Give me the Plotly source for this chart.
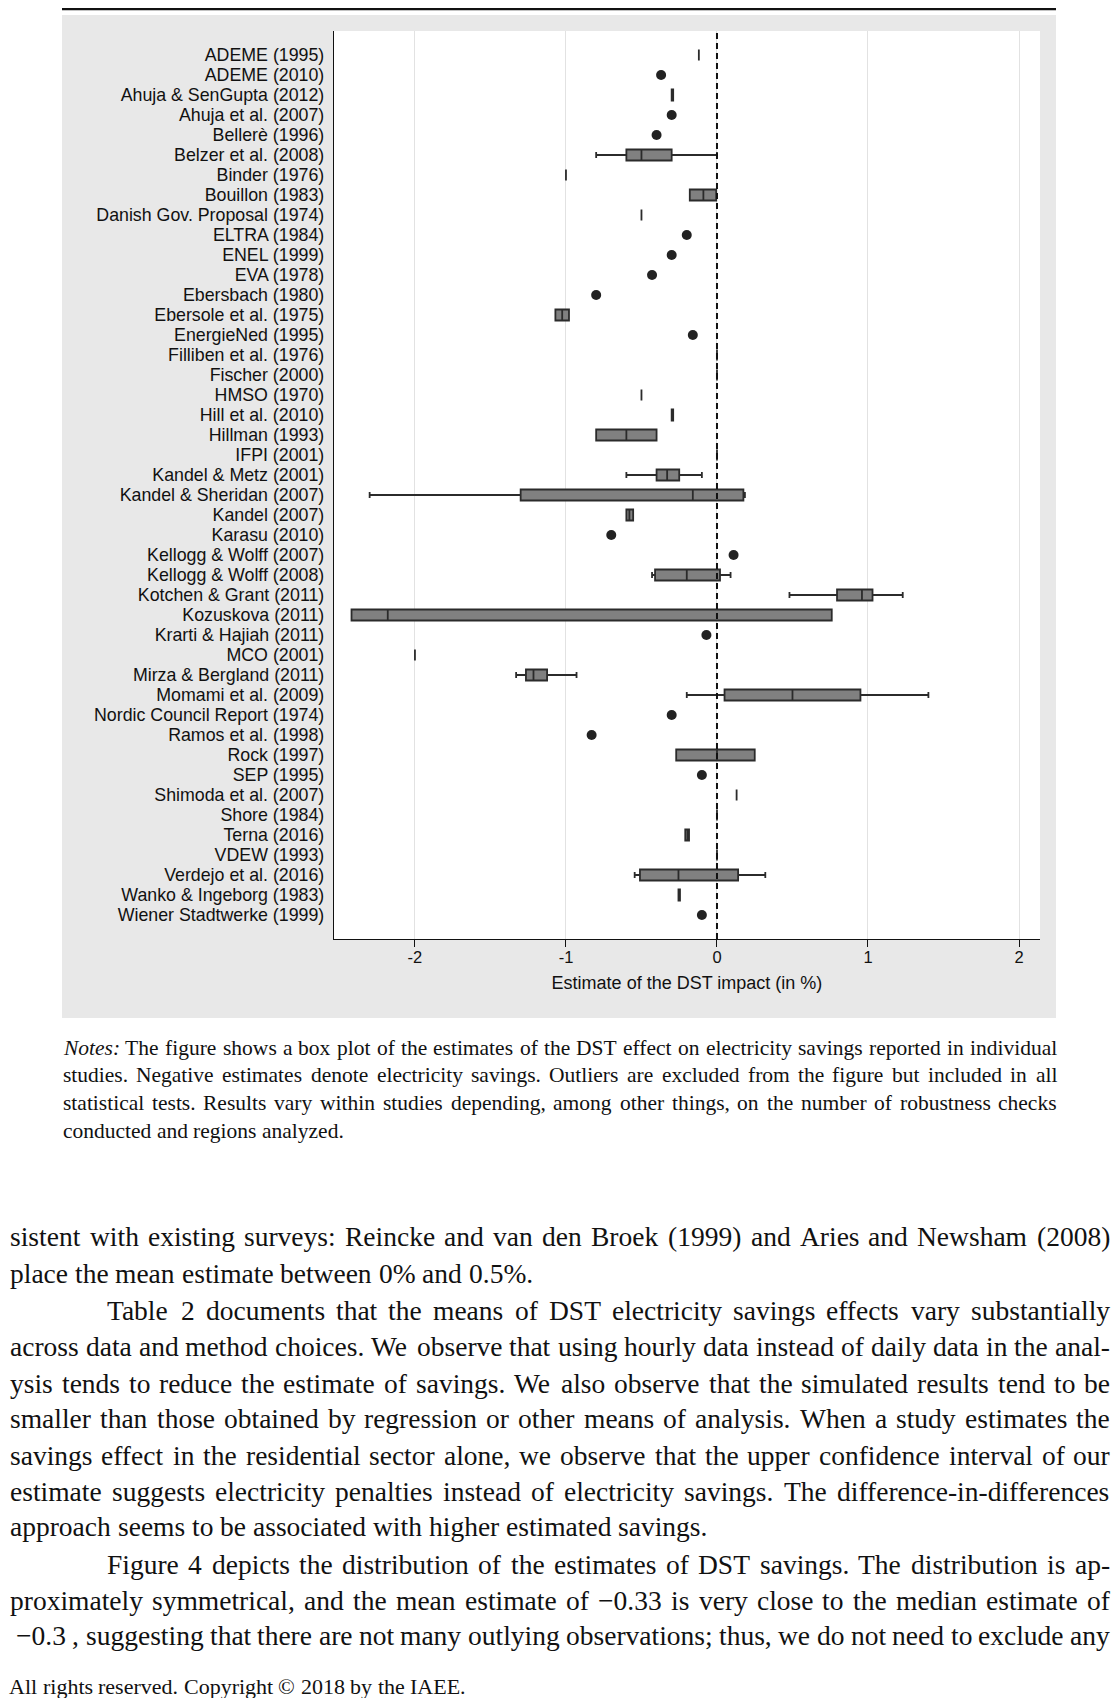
import plotly.graph_objects as go

W, H = 1119, 1698
PAGE = 8  # the browser's default body margin pushes the figure 8px right and down

# ── Data ──────────────────────────────────────────────
studies = [
    "ADEME (1995)", "ADEME (2010)", "Ahuja & SenGupta (2012)", "Ahuja et al. (2007)",
    "Bellerè (1996)", "Belzer et al. (2008)", "Binder (1976)", "Bouillon (1983)",
    "Danish Gov. Proposal (1974)", "ELTRA (1984)", "ENEL (1999)", "EVA (1978)",
    "Ebersbach (1980)", "Ebersole et al. (1975)", "EnergieNed (1995)", "Filliben et al. (1976)",
    "Fischer (2000)", "HMSO (1970)", "Hill et al. (2010)", "Hillman (1993)",
    "IFPI (2001)", "Kandel & Metz (2001)", "Kandel & Sheridan (2007)", "Kandel (2007)",
    "Karasu (2010)", "Kellogg & Wolff (2007)", "Kellogg & Wolff (2008)", "Kotchen & Grant (2011)",
    "Kozuskova (2011)", "Krarti & Hajiah (2011)", "MCO (2001)", "Mirza & Bergland (2011)",
    "Momami et al. (2009)", "Nordic Council Report (1974)", "Ramos et al. (1998)", "Rock (1997)",
    "SEP (1995)", "Shimoda et al. (2007)", "Shore (1984)", "Terna (2016)",
    "VDEW (1993)", "Verdejo et al. (2016)", "Wanko & Ingeborg (1983)", "Wiener Stadtwerke (1999)",
]

# studies drawn as boxes (a box of zero width shows as a single line)
box_studies = [
    "ADEME (1995)", "Ahuja & SenGupta (2012)", "Belzer et al. (2008)", "Binder (1976)",
    "Bouillon (1983)", "Danish Gov. Proposal (1974)", "Ebersole et al. (1975)",
    "Filliben et al. (1976)", "Fischer (2000)", "HMSO (1970)", "Hill et al. (2010)",
    "Hillman (1993)", "IFPI (2001)", "Kandel & Metz (2001)", "Kandel & Sheridan (2007)",
    "Kandel (2007)", "Kellogg & Wolff (2008)", "Kotchen & Grant (2011)", "Kozuskova (2011)",
    "MCO (2001)", "Mirza & Bergland (2011)", "Momami et al. (2009)", "Rock (1997)",
    "Shimoda et al. (2007)", "Shore (1984)", "Terna (2016)", "VDEW (1993)",
    "Verdejo et al. (2016)", "Wanko & Ingeborg (1983)",
]
box_low = [-0.12, -0.30, -0.80, -1.00, -0.18, -0.50, -1.07, 0.0, 0.0, -0.50, -0.30,
           -0.80, 0.0, -0.60, -2.30, -0.60, -0.43, 0.48, -2.42, -2.00, -1.33, -0.20,
           -0.27, 0.13, 0.0, -0.21, 0.0, -0.545, -0.255]
box_q1 = [-0.12, -0.30, -0.60, -1.00, -0.18, -0.50, -1.07, 0.0, 0.0, -0.50, -0.30,
          -0.80, 0.0, -0.40, -1.30, -0.60, -0.41, 0.795, -2.42, -2.00, -1.265, 0.05,
          -0.27, 0.13, 0.0, -0.21, 0.0, -0.51, -0.255]
box_median = [-0.12, -0.295, -0.50, -1.00, -0.09, -0.50, -1.025, 0.0, 0.0, -0.50, -0.295,
              -0.60, 0.0, -0.33, -0.16, -0.58, -0.20, 0.96, -2.18, -2.00, -1.215, 0.50,
              0.0, 0.13, 0.0, -0.195, 0.0, -0.255, -0.25]
box_q3 = [-0.12, -0.29, -0.30, -1.00, -0.005, -0.50, -0.98, 0.0, 0.0, -0.50, -0.29,
          -0.40, 0.0, -0.25, 0.175, -0.555, 0.02, 1.03, 0.76, -2.00, -1.125, 0.95,
          0.25, 0.13, 0.0, -0.185, 0.0, 0.14, -0.245]
box_high = [-0.12, -0.29, 0.0, -1.00, -0.005, -0.50, -0.98, 0.0, 0.0, -0.50, -0.29,
            -0.40, 0.0, -0.10, 0.185, -0.555, 0.09, 1.23, 0.76, -2.00, -0.93, 1.40,
            0.25, 0.13, 0.0, -0.185, 0.0, 0.32, -0.245]

# studies drawn as a single dot
dot_studies = [
    "ADEME (2010)", "Ahuja et al. (2007)", "Bellerè (1996)", "ELTRA (1984)", "ENEL (1999)",
    "EVA (1978)", "Ebersbach (1980)", "EnergieNed (1995)", "Karasu (2010)",
    "Kellogg & Wolff (2007)", "Krarti & Hajiah (2011)", "Nordic Council Report (1974)",
    "Ramos et al. (1998)", "SEP (1995)", "Wiener Stadtwerke (1999)",
]
dot_values = [-0.37, -0.30, -0.40, -0.20, -0.30, -0.43, -0.80, -0.16, -0.70,
              0.11, -0.07, -0.30, -0.83, -0.10, -0.10]

x_ticks = [-2, -1, 0, 1, 2]
x_ticktext = ["-2", "-1", "0", "1", "2"]
x_title = "Estimate of the DST impact (in %)"

notes_lines = [
    "<i>Notes:</i> The figure shows a box plot of the estimates of the DST effect on electricity savings reported in individual",
    "studies. Negative estimates denote electricity savings. Outliers are excluded from the figure but included in all",
    "statistical tests. Results vary within studies depending, among other things, on the number of robustness checks",
    "conducted and regions analyzed.",
]
body_lines = [
    "sistent with existing surveys: Reincke and van den Broek (1999) and Aries and Newsham (2008)",
    "place the mean estimate between 0% and 0.5%.",
    "Table 2 documents that the means of DST electricity savings effects vary substantially",
    "across data and method choices. We observe that using hourly data instead of daily data in the anal-",
    "ysis tends to reduce the estimate of savings. We also observe that the simulated results tend to be",
    "smaller than those obtained by regression or other means of analysis. When a study estimates the",
    "savings effect in the residential sector alone, we observe that the upper confidence interval of our",
    "estimate suggests electricity penalties instead of electricity savings. The difference-in-differences",
    "approach seems to be associated with higher estimated savings.",
    "Figure 4 depicts the distribution of the estimates of DST savings. The distribution is ap-",
    "proximately symmetrical, and the mean estimate of −0.33 is very close to the median estimate of",
    "−0.3 , suggesting that there are not many outlying observations; thus, we do not need to exclude any",
]
footer = "All rights reserved. Copyright © 2018 by the IAEE."

# ── Helpers ───────────────────────────────────────────
FW, FH = W - PAGE, H - PAGE


def px(x):
    return (x - PAGE) / FW


def py(y):
    return 1 - (y - PAGE) / FH


# Times / Liberation Serif advance widths (1/1000 em), used to justify text lines
TIMES = dict(a=444, b=500, c=444, d=500, e=444, f=333, g=500, h=500, i=278, j=278, k=500,
             l=278, m=778, n=500, o=500, p=500, q=500, r=333, s=389, t=278, u=500, v=500,
             w=722, x=500, y=500, z=444,
             A=722, B=667, C=667, D=722, E=611, F=556, G=722, H=722, I=333, J=389, K=722,
             L=611, M=889, N=722, O=722, P=556, Q=722, R=667, S=556, T=611, U=722, V=722,
             W=944, X=722, Y=722, Z=611)
TIMES.update({" ": 250, ".": 250, ",": 250, ":": 278, ";": 278, "(": 333, ")": 333,
              "-": 333, "%": 833, "&": 778, "©": 760, "−": 564})


def text_width(s, size):
    s = s.replace("<i>", "").replace("</i>", "")
    return sum(TIMES.get(c, 500) for c in s) / 1000 * size


def add_line(fig, line, left, right, y, size, justify):
    words = line.split(" ")
    widths = [text_width(w, size) for w in words]
    if justify and len(words) > 1:
        gap = (right - left - sum(widths)) / (len(words) - 1)
    else:
        gap = 0.25 * size
    x = left
    for w, wd in zip(words, widths):
        fig.add_annotation(
            text=w, x=px(x), y=py(y), xref="paper", yref="paper",
            xanchor="left", yanchor="middle", showarrow=False, borderpad=0,
            font=dict(family="Liberation Serif", size=size, color="#111"),
        )
        x += wd + gap


# ── Figure ────────────────────────────────────────────
PLOT_L, PLOT_R, PLOT_T, PLOT_B = 334, 1040, 31, 939

fig = go.Figure()

fig.add_trace(go.Box(
    y=box_studies, q1=box_q1, median=box_median, q3=box_q3,
    lowerfence=box_low, upperfence=box_high, orientation="h",
    fillcolor="#808080", line=dict(color="#2b2b2b", width=1.8),
    width=0.55, whiskerwidth=0.55, boxpoints=False, hoverinfo="skip",
))
fig.add_trace(go.Scatter(
    x=dot_values, y=dot_studies, mode="markers",
    marker=dict(size=10, color="#222222"), hoverinfo="skip",
))

# grey page panel, white plot region, rule at the very top
fig.add_shape(type="rect", xref="paper", yref="paper", x0=px(62), x1=px(1056),
              y0=py(1018), y1=py(15), fillcolor="#e8e8e8", line_width=0, layer="below")
fig.add_shape(type="rect", xref="paper", yref="paper", x0=px(PLOT_L), x1=px(PLOT_R),
              y0=py(PLOT_B), y1=py(PLOT_T), fillcolor="white", line_width=0, layer="below")
fig.add_shape(type="rect", xref="paper", yref="paper", x0=px(62), x1=px(1056),
              y0=py(PAGE + 2.2), y1=1, fillcolor="#111", line_width=0)

# dashed reference line at zero
fig.add_shape(type="line", xref="x", yref="y domain", x0=0, x1=0, y0=0, y1=1,
              line=dict(color="#111", width=2, dash="6px,4px"), layer="above")

n = len(studies)
fig.update_layout(
    width=FW, height=FH, margin=dict(l=0, r=0, t=0, b=0),
    paper_bgcolor="white", plot_bgcolor="rgba(0,0,0,0)", showlegend=False,
    font=dict(family="Liberation Sans", size=17.8, color="#111"),
    xaxis=dict(
        domain=[px(PLOT_L), px(PLOT_R)], range=[-2.536, 2.139],
        tickmode="array", tickvals=x_ticks, ticktext=x_ticktext,
        tickfont=dict(size=16.5), ticklabelstandoff=-4,
        ticks="outside", ticklen=7, tickwidth=1.3, tickcolor="#111",
        showline=True, linecolor="#111", linewidth=1.3,
        showgrid=True, gridcolor="#e2e2e2", gridwidth=1.3, zeroline=False,
        title=dict(text=x_title, standoff=11, font=dict(size=18)),
    ),
    yaxis=dict(
        domain=[py(PLOT_B), py(PLOT_T)], type="category",
        categoryorder="array", categoryarray=studies, range=[n - 1 + 1.2, -1.2],
        tickmode="array", tickvals=studies, ticktext=studies,
        showline=True, linecolor="#111", linewidth=1.3,
        ticks="outside", ticklen=5, tickcolor="rgba(0,0,0,0)",
        showgrid=False, zeroline=False,
    ),
)

# ── Notes under the figure ────────────────────────────
notes_y = [1048, 1075, 1103, 1131]
for i, line in enumerate(notes_lines):
    add_line(fig, line, 62, 1056, notes_y[i], 21.5, justify=i < len(notes_lines) - 1)

# ── Running text of the page ──────────────────────────
body_y = [1236, 1273, 1310, 1346, 1383, 1418, 1455, 1491, 1526, 1564, 1600, 1635]
indent = {2: 97, 9: 97, 11: 6}
ragged = {1, 8}
for i, line in enumerate(body_lines):
    add_line(fig, line, 9 + indent.get(i, 0), 1109, body_y[i], 27.5, justify=i not in ragged)

add_line(fig, footer, 8, 1108, 1686, 22, justify=False)

fig.write_html("out.html")
